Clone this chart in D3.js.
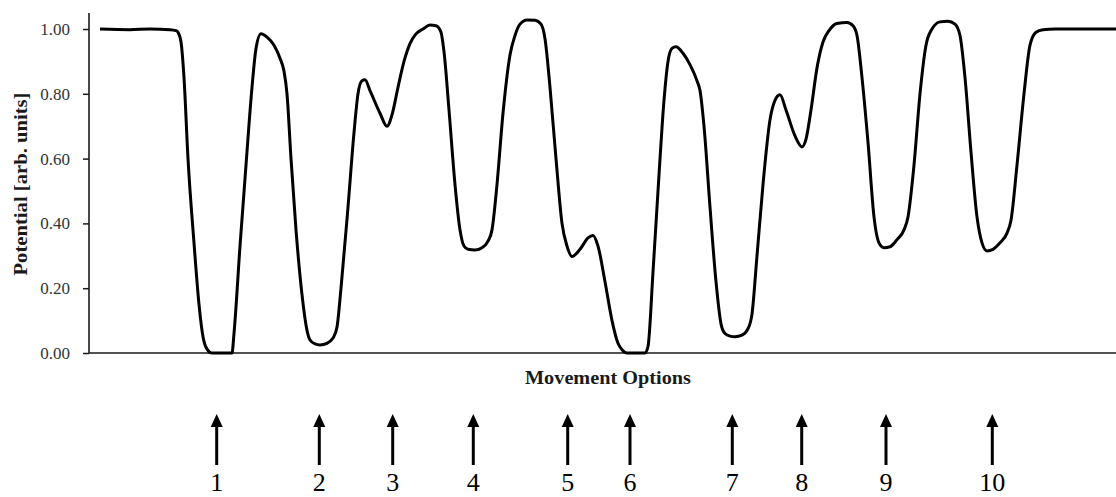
<!DOCTYPE html>
<html>
<head>
<meta charset="utf-8">
<script src="https://cdn.jsdelivr.net/npm/d3@7"></script>
<style>
  html, body { margin: 0; padding: 0; background: #fff; }
  svg { display: block; }
</style>
</head>
<body>
<svg id="chart" width="1116" height="497"></svg>
<script>
// ---- data (position along movement axis, arbitrary units 0..1027) ----
const positions = [11,41,61,81,87,89,92,95,99,105,110,114,118,123,141,143,145,151,157,163,167,172,178,185,191,195,198,202,207,213,218,221,226,231,238,244,248,252,259,265,269,273,276,281,291,298,303,309,315,321,327,334,341,347,352,355,360,366,371,375,379,386,393,399,403,408,414,421,426,431,438,446,452,456,461,467,473,478,483,491,499,504,509,516,523,529,533,538,556,559,564,570,575,579,583,587,594,601,608,611,615,621,627,632,636,641,646,653,659,663,668,674,681,686,691,697,706,713,717,722,728,734,740,748,758,764,768,773,779,785,790,795,801,808,815,819,825,831,837,843,851,859,866,871,876,882,888,893,898,904,911,918,922,928,935,941,947,954,966,991,1027];
const potential = [1.000,0.998,1.000,0.998,0.995,0.99,0.96,0.85,0.60,0.34,0.15,0.05,0.012,0.0,0.0,0.0,0.06,0.33,0.58,0.82,0.94,0.985,0.975,0.95,0.91,0.87,0.80,0.60,0.38,0.18,0.07,0.04,0.028,0.025,0.03,0.046,0.08,0.2,0.45,0.68,0.8,0.84,0.843,0.81,0.74,0.70,0.735,0.82,0.90,0.955,0.985,1.0,1.012,1.01,0.99,0.93,0.75,0.52,0.38,0.33,0.32,0.318,0.325,0.345,0.38,0.52,0.74,0.92,0.98,1.015,1.028,1.027,1.015,0.97,0.82,0.6,0.4,0.33,0.298,0.32,0.355,0.363,0.33,0.22,0.10,0.03,0.01,0.0,0.0,0.02,0.25,0.55,0.78,0.9,0.94,0.945,0.925,0.89,0.84,0.81,0.70,0.45,0.22,0.09,0.06,0.052,0.05,0.055,0.075,0.12,0.3,0.52,0.72,0.78,0.797,0.75,0.67,0.636,0.66,0.75,0.88,0.96,0.995,1.017,1.02,1.01,0.98,0.85,0.65,0.42,0.34,0.325,0.328,0.35,0.38,0.42,0.58,0.8,0.95,1.0,1.022,1.024,1.015,0.98,0.85,0.62,0.42,0.34,0.315,0.32,0.34,0.37,0.41,0.58,0.8,0.95,0.99,0.998,1.0,1.0,1.0];
const optionLabels = ["1","2","3","4","5","6","7","8","9","10"];
const optionPositions = [127.7,230.3,303.7,384.3,478.7,541,643.3,712.7,797,903.3];
const yTicks = [0,0.2,0.4,0.6,0.8,1.0];
const xTitle = "Movement Options";
const yTitle = "Potential [arb. units]";

// ---- layout ----
const svg = d3.select("#chart");
const mLeft = 89, mRight = 1116, mTop = 13, mBottom = 353;
const x = d3.scaleLinear().domain([0, 1027]).range([mLeft, mRight]);
const y = d3.scaleLinear().domain([0, 1]).range([mBottom, 29]);
const serif = "'Liberation Serif', 'DejaVu Serif', serif";
const ink = "#1a1a1a";

// y axis
const yAxis = svg.append("g")
  .attr("transform", `translate(${mLeft},0)`)
  .call(d3.axisLeft(y).tickValues(yTicks).tickFormat(d3.format(".2f")).tickSize(6).tickPadding(13));
yAxis.select(".domain").remove();
yAxis.selectAll(".tick line").attr("stroke", ink).attr("stroke-width", 1.5);
yAxis.selectAll(".tick text")
  .attr("fill", "#333").style("font-family", serif).style("font-size", "17px");
svg.append("line").attr("x1", mLeft).attr("x2", mLeft).attr("y1", mTop).attr("y2", mBottom)
  .attr("stroke", ink).attr("stroke-width", 1.6);

// x axis (no ticks)
svg.append("line").attr("x1", mLeft).attr("x2", mRight).attr("y1", mBottom).attr("y2", mBottom)
  .attr("stroke", ink).attr("stroke-width", 1.6);

// titles
svg.append("text")
  .attr("x", 608).attr("y", 384)
  .attr("text-anchor", "middle")
  .attr("textLength", 166).attr("lengthAdjust", "spacingAndGlyphs")
  .style("font-family", serif).style("font-weight", "bold").style("font-size", "18px")
  .attr("fill", ink).text(xTitle);

svg.append("text")
  .attr("transform", "translate(27,184) rotate(-90)")
  .attr("text-anchor", "middle")
  .attr("textLength", 183).attr("lengthAdjust", "spacingAndGlyphs")
  .style("font-family", serif).style("font-weight", "bold").style("font-size", "18px")
  .attr("fill", ink).text(yTitle);

// curve
const pts = positions.map((p, i) => [p, potential[i]]);
svg.append("path")
  .datum(pts)
  .attr("fill", "none")
  .attr("stroke", "#000")
  .attr("stroke-width", 3)
  .attr("stroke-linejoin", "round")
  .attr("d", d3.line().x(d => x(d[0])).y(d => y(d[1])).curve(d3.curveMonotoneX));

// arrows + labels
const arrows = svg.append("g");
optionPositions.forEach((p, i) => {
  const cx = x(p);
  arrows.append("line")
    .attr("x1", cx).attr("x2", cx).attr("y1", 424).attr("y2", 465)
    .attr("stroke", "#000").attr("stroke-width", 3);
  arrows.append("path")
    .attr("d", `M${cx},414 L${cx - 6},427 L${cx + 6},427 Z`)
    .attr("fill", "#000");
  arrows.append("text")
    .attr("x", cx).attr("y", 491)
    .attr("text-anchor", "middle")
    .style("font-family", serif).style("font-size", "26px")
    .attr("fill", "#000").text(optionLabels[i]);
});
</script>
</body>
</html>
